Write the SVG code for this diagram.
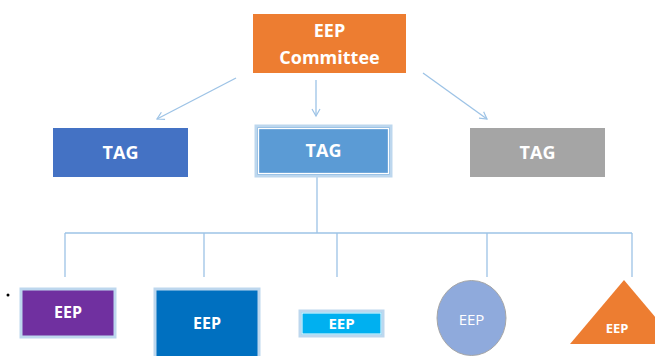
<svg xmlns="http://www.w3.org/2000/svg" width="655" height="356" viewBox="0 0 655 356">
<defs>
<style>
.t{font-family:"Open Sans","Noto Sans","Liberation Sans",sans-serif;font-weight:bold;fill:#fff;text-anchor:middle}
.c{fill:none;stroke:#9DC3E6;stroke-width:1.3}
.glow{stroke:#BDD7EE;stroke-width:3}
</style>
<marker id="ah" markerWidth="10" markerHeight="10" refX="8" refY="5" orient="auto" markerUnits="userSpaceOnUse">
<path d="M1,1 L8,5 L1,9" fill="none" stroke="#9DC3E6" stroke-width="1.2"/>
</marker>
</defs>
<rect width="655" height="356" fill="#fff"/>
<g id="connectors">
<line class="c" x1="236" y1="78" x2="157" y2="119" marker-end="url(#ah)"/>
<line class="c" x1="316" y1="80" x2="316" y2="116" marker-end="url(#ah)"/>
<line class="c" x1="423" y1="73" x2="487" y2="119" marker-end="url(#ah)"/>
<path class="c" d="M317,177 V233 M65,233 H632 M65,233 V277 M204,233 V277 M337,233 V277 M487,233 V277 M632,233 V277"/>
</g>
<g id="committee">
<rect x="253" y="14" width="153" height="59" fill="#ED7D31"/>
<text class="t" x="329.5" y="37" font-size="18">EEP</text>
<text class="t" x="329.5" y="64" font-size="18">Committee</text>
</g>
<g id="tag-left">
<rect x="53" y="128" width="135" height="49" fill="#4472C4"/>
<text class="t" x="120.5" y="159" font-size="18">TAG</text>
</g>
<g id="tag-center">
<rect x="256" y="126" width="135" height="50" fill="#5B9BD5" class="glow"/>
<rect x="258.5" y="128.5" width="130" height="45" fill="none" stroke="#fff" stroke-width="1.3"/>
<text class="t" x="323.5" y="157" font-size="18">TAG</text>
</g>
<g id="tag-right">
<rect x="470" y="128" width="135" height="49" fill="#A5A5A5"/>
<text class="t" x="537.5" y="159" font-size="18">TAG</text>
</g>
<circle cx="8" cy="295" r="1.5" fill="#000"/>
<g id="eep-purple">
<rect x="21" y="289" width="94" height="48" fill="#7030A0" class="glow"/>
<text class="t" x="68" y="318" font-size="16">EEP</text>
</g>
<g id="eep-blue">
<rect x="155" y="289" width="104" height="70" fill="#0070C0" class="glow"/>
<text class="t" x="207" y="329" font-size="16">EEP</text>
</g>
<g id="eep-cyan">
<rect x="300" y="311" width="83" height="25" fill="#00B0F0" class="glow"/>
<rect x="302" y="313" width="79" height="21" fill="none" stroke="#fff" stroke-width="1"/>
<text class="t" x="341.5" y="329" font-size="15">EEP</text>
</g>
<g id="eep-circle">
<ellipse cx="471.5" cy="318" rx="34.5" ry="37.5" fill="#8FAADC" stroke="#A6A6A6" stroke-width="1"/>
<text class="t" x="471.5" y="325" font-size="15" style="font-weight:normal">EEP</text>
</g>
<g id="eep-triangle">
<polygon points="624,280 570,344 678,344" fill="#ED7D31"/>
<text class="t" x="617" y="333" font-size="13">EEP</text>
</g>
</svg>
